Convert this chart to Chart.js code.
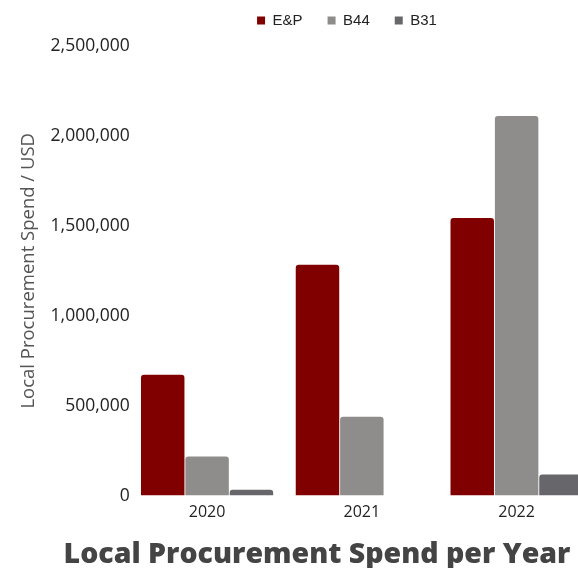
<!DOCTYPE html>
<html>
<head>
<meta charset="utf-8">
<script src="https://cdn.jsdelivr.net/npm/chart.js@4"></script>
<style>
  html, body { margin: 0; padding: 0; background: #fff; overflow: hidden; }
  #wrap { position: relative; width: 600px; height: 568px; }
</style>
</head>
<body>
<div id="wrap"><canvas id="spendChart"></canvas></div>
<script>
// Local procurement spend by year and block
const years = ['2020', '2021', '2022'];
const seriesNames = ['E&P', 'B44', 'B31'];
const spendEP = [672000, 1283000, 1544000];
const spendB44 = [217000, 439000, 2111000];
const spendB31 = [33000, 0, 117000];
const seriesColors = ['#800000', '#8e8d8b', '#67666b'];

// where the legend and the title sit
const legendCenterX = 347;
const legendShiftY = -8;
const titleCenterX = 317;

const placeBoxes = {
  id: 'placeBoxes',
  afterLayout(chart) {
    const move = (box, cx, dy) => {
      if (!box) return;
      const dx = cx - (box.left + box.right) / 2;
      box.left += dx;
      box.right += dx;
      box.top += dy;
      box.bottom += dy;
    };
    move(chart.legend, legendCenterX, legendShiftY);
    move(chart.titleBlock, titleCenterX, 0);
  }
};

new Chart(document.getElementById('spendChart'), {
  type: 'bar',
  data: {
    labels: years,
    datasets: [spendEP, spendB44, spendB31].map((vals, i) => ({
      label: seriesNames[i],
      data: vals,
      backgroundColor: seriesColors[i],
      borderWidth: 0,
      borderRadius: 3,
      borderSkipped: 'bottom',
      categoryPercentage: 0.86,
      barPercentage: 0.98
    }))
  },
  plugins: [placeBoxes],
  options: {
    responsive: true,
    maintainAspectRatio: false,
    animation: false,
    layout: { padding: { left: 16, right: 6, top: -4, bottom: -4 } },
    plugins: {
      legend: {
        position: 'top',
        labels: {
          boxWidth: 8, boxHeight: 8, padding: 25,
          color: '#222',
          font: { family: 'Liberation Sans', size: 15 }
        }
      },
      title: {
        display: true,
        position: 'bottom',
        text: 'Local Procurement Spend per Year',
        color: '#444',
        font: { family: 'Open Sans', size: 28.5, weight: '800' },
        padding: { top: 17, bottom: 0 }
      },
      tooltip: { enabled: false }
    },
    scales: {
      x: {
        grid: { display: false },
        border: { display: false },
        ticks: { color: '#222', font: { family: 'Open Sans', size: 16 }, padding: -1 }
      },
      y: {
        min: 0,
        max: 2500000,
        grid: { display: false },
        border: { display: false },
        ticks: {
          stepSize: 500000,
          color: '#222',
          padding: -8,
          font: { family: 'Open Sans', size: 17.5 },
          callback: v => v.toLocaleString('en-US')
        },
        title: {
          display: true,
          text: 'Local Procurement Spend / USD',
          color: '#555',
          font: { family: 'Open Sans', size: 18.5 },
          padding: { top: 2, bottom: 18.4 }
        }
      }
    }
  }
});
</script>
</body>
</html>
